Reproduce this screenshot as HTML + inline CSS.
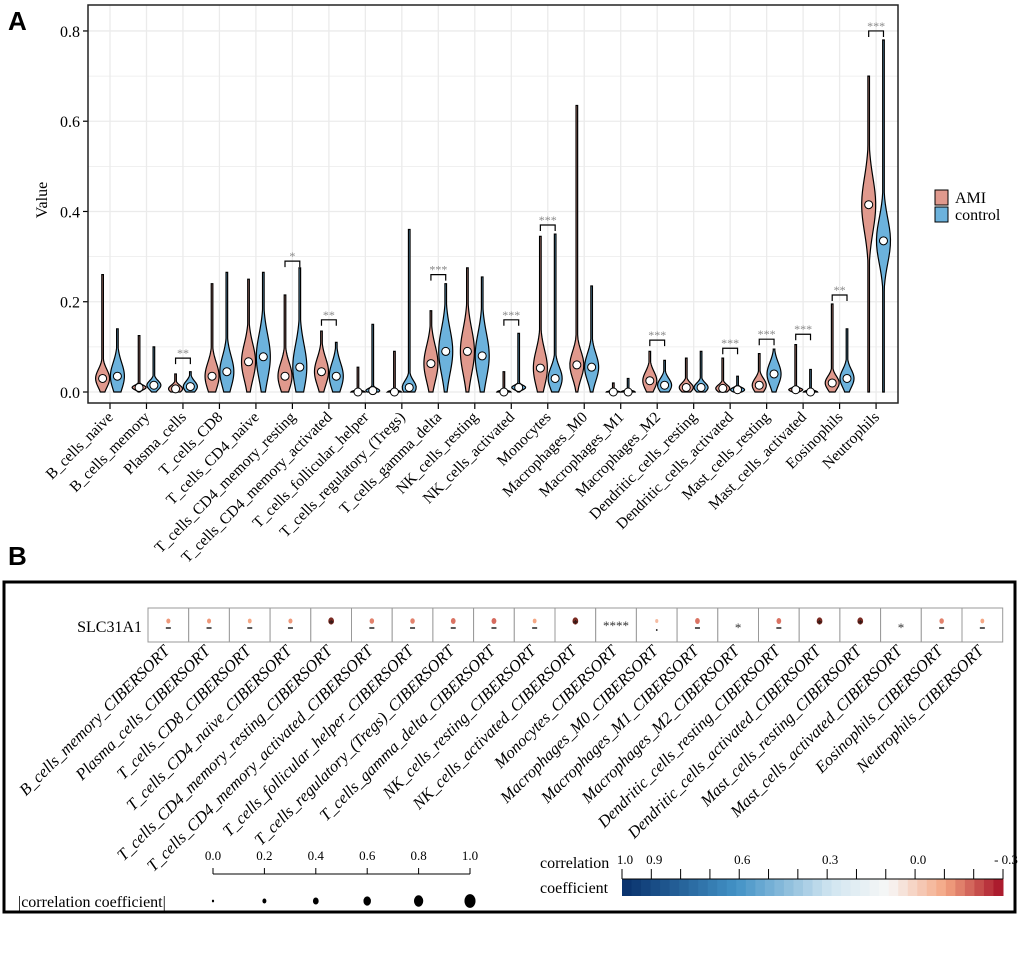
<!DOCTYPE html>
<html><head><meta charset="utf-8"><style>
body{margin:0;background:#fff;}
svg{display:block;font-family:"Liberation Serif",serif;}
</style></head><body>
<svg id="chart" width="1020" height="961" xmlns="http://www.w3.org/2000/svg">
<text x="8" y="30" font-family="Liberation Sans, sans-serif" font-weight="bold" font-size="26">A</text>
<text x="8" y="565" font-family="Liberation Sans, sans-serif" font-weight="bold" font-size="26">B</text>
<g id="pa"></g>
<rect x="4" y="582" width="1011" height="330" fill="none" stroke="#000" stroke-width="3"/>
<g id="pb"></g>
</svg>
<script>
const categories=["B_cells_naive","B_cells_memory","Plasma_cells","T_cells_CD8","T_cells_CD4_naive","T_cells_CD4_memory_resting","T_cells_CD4_memory_activated","T_cells_follicular_helper","T_cells_regulatory_(Tregs)","T_cells_gamma_delta","NK_cells_resting","NK_cells_activated","Monocytes","Macrophages_M0","Macrophages_M1","Macrophages_M2","Dendritic_cells_resting","Dendritic_cells_activated","Mast_cells_resting","Mast_cells_activated","Eosinophils","Neutrophils"];
const amiMed=[0.03,0.01,0.007,0.035,0.067,0.035,0.045,0,0,0.063,0.09,0,0.053,0.06,0,0.025,0.01,0.008,0.015,0.005,0.02,0.415];
const amiMax=[0.26,0.125,0.04,0.24,0.25,0.215,0.135,0.055,0.09,0.18,0.275,0.045,0.345,0.635,0.02,0.09,0.075,0.075,0.085,0.105,0.195,0.70];
const amiSpread=[0.02,0.005,0.008,0.03,0.04,0.03,0.03,0.003,0.003,0.04,0.05,0.003,0.04,0.03,0.002,0.02,0.01,0.008,0.015,0.004,0.015,0.06];
const ctlMed=[0.035,0.015,0.012,0.045,0.078,0.055,0.035,0.003,0.01,0.09,0.08,0.01,0.03,0.055,0,0.015,0.01,0.005,0.04,0,0.03,0.335];
const ctlMax=[0.14,0.10,0.045,0.265,0.265,0.275,0.11,0.15,0.36,0.24,0.255,0.13,0.35,0.235,0.03,0.07,0.09,0.035,0.095,0.05,0.14,0.78];
const ctlSpread=[0.03,0.01,0.012,0.035,0.05,0.05,0.03,0.005,0.015,0.05,0.05,0.005,0.025,0.03,0.003,0.015,0.01,0.005,0.025,0.003,0.02,0.05];
const sigLabels=["","","**","","","*","**","","","***","","***","***","","","***","","***","***","***","**","***"];
const sigHeights=[0,0,0.075,0,0,0.29,0.16,0,0,0.26,0,0.16,0.37,0,0,0.115,0,0.097,0.117,0.128,0.215,0.8];
const yTicks=[0,0.2,0.4,0.6,0.8];

const heatCats=["B_cells_memory","Plasma_cells","T_cells_CD8","T_cells_CD4_naive","T_cells_CD4_memory_resting","T_cells_CD4_memory_activated","T_cells_follicular_helper","T_cells_regulatory_(Tregs)","T_cells_gamma_delta","NK_cells_resting","NK_cells_activated","Monocytes","Macrophages_M0","Macrophages_M1","Macrophages_M2","Dendritic_cells_resting","Dendritic_cells_activated","Mast_cells_resting","Mast_cells_activated","Eosinophils","Neutrophils"];
const corrValues=[-0.12,-0.12,-0.1,-0.12,-0.25,-0.15,-0.15,-0.17,-0.18,-0.1,-0.25,-0.6,-0.05,-0.17,-0.2,-0.17,-0.25,-0.25,-0.2,-0.15,-0.1];
const corrSig=["-","-","-","-","*o","-","-","-","-","-","*o","****",".","-","*","-","*o","*o","*","-","-"];
const sizeTicks=["0.0","0.2","0.4","0.6","0.8","1.0"];
const colorTicks=["1.0","0.9","0.6","0.3","0.0","- 0.3"];
const colorTickVals=[1.0,0.9,0.6,0.3,0.0,-0.3];

const NS="http://www.w3.org/2000/svg";
function mk(tag,attrs,parent,text){const e=document.createElementNS(NS,tag);for(const k in attrs)e.setAttribute(k,attrs[k]);if(text!==undefined)e.textContent=text;parent.appendChild(e);return e;}
const pa=document.getElementById('pa');
const L=88,R=898,T=5,B=403;
const y0=392,yScale=451.3;
const Y=v=>y0-v*yScale;
const X=i=>110+i*36.48;
mk('rect',{x:L,y:T,width:R-L,height:B-T,fill:'#fff'},pa);
for(let k=0;k<=8;k++){const g=mk('line',{x1:L,x2:R,y1:Y(k*0.1),y2:Y(k*0.1),stroke:'#ebebeb','stroke-width':k%2?0.8:1.3},pa);}
categories.forEach((c,i)=>{const g=mk('line',{x1:X(i),x2:X(i),y1:T,y2:B,stroke:'#ebebeb','stroke-width':1.3},pa);});
function violin(cx,med,max,s,col,name){
  const W=7,pts=[];const n=60;
  for(let k=0;k<=n;k++){const v=max*k/n;let w=W*Math.exp(-0.5*Math.pow((v-med)/s,2));w=Math.max(w,0.8);pts.push([v,w]);}
  let d='M'+(cx-pts[0][1])+','+Y(0);
  pts.forEach(p=>d+=' L'+(cx-p[1])+','+Y(p[0]));
  for(let k=pts.length-1;k>=0;k--)d+=' L'+(cx+pts[k][1])+','+Y(pts[k][0]);
  d+='Z';
  const p=mk('path',{d:d,fill:col,stroke:'#000','stroke-width':1.2},pa);
  
  
  const c=mk('circle',{cx:cx,cy:Y(med),r:4,fill:'#fff',stroke:'#000','stroke-width':1},pa);
  
  
}
categories.forEach((c,i)=>{
  violin(X(i)-7.4,amiMed[i],amiMax[i],amiSpread[i],'#e0998d','violin-ami-'+i);
  violin(X(i)+7.4,ctlMed[i],ctlMax[i],ctlSpread[i],'#6cb2dc','violin-control-'+i);
  if(sigLabels[i]){
    const h=Y(sigHeights[i]);
    const br=mk('path',{d:`M${X(i)-7.4},${h+6} V${h} H${X(i)+7.4} V${h+6}`,fill:'none',stroke:'#000','stroke-width':1.2},pa);
    
    
    const t=mk('text',{x:X(i),y:h-1,'text-anchor':'middle','font-size':12,fill:'#888'},pa,sigLabels[i]);
    
    
  }
  mk('line',{x1:X(i),x2:X(i),y1:B,y2:B+6,stroke:'#000','stroke-width':1.2},pa);
  const t=mk('text',{x:0,y:0,'text-anchor':'end','font-size':15.5,transform:`translate(${X(i)+4},${B+15}) rotate(-45)`},pa,c);
  
  
});
yTicks.forEach(v=>{
  mk('line',{x1:L-5,x2:L,y1:Y(v),y2:Y(v),stroke:'#000','stroke-width':1.2},pa);
  const t=mk('text',{x:L-8,y:Y(v)+6,'text-anchor':'end','font-size':16},pa,v.toFixed(1));
  
  
});
mk('rect',{x:L,y:T,width:R-L,height:B-T,fill:'none',stroke:'#222','stroke-width':1.5},pa);
const yt=mk('text',{x:0,y:0,'text-anchor':'middle','font-size':16,transform:'translate(47,200) rotate(-90)'},pa,'Value');


[['AMI','#e0998d',190],['control','#6cb2dc',207]].forEach(([n,c,y])=>{
  const r=mk('rect',{x:935,y:y,width:13,height:15,fill:c,stroke:'#000','stroke-width':1},pa);
  
  
  const t=mk('text',{x:955,y:y+13,'font-size':16},pa,n);
  
  
});

const pb=document.getElementById('pb');
const cx0=148,cw=40.7,cy0=608,ch=34;
const st=mk('text',{x:142,y:632,'text-anchor':'end','font-size':16},pb,'SLC31A1');


function corrColor(r){
  const t=(1-r)/1.3;
  const stops=[[0,[8,48,107]],[0.3,[66,146,198]],[0.55,[209,229,240]],[0.7,[247,247,247]],[0.85,[244,165,130]],[1,[165,15,38]]];
  for(let k=1;k<stops.length;k++){if(t<=stops[k][0]){const a=stops[k-1],b=stops[k];const f=(t-a[0])/(b[0]-a[0]);return 'rgb('+a[1].map((v,j)=>Math.round(v+(b[1][j]-v)*f)).join(',')+')';}}
  return 'rgb(165,15,38)';
}
heatCats.forEach((c,i)=>{
  const x=cx0+i*cw;
  const r=mk('rect',{x:x,y:cy0,width:cw,height:ch,fill:'#fff',stroke:'#999','stroke-width':1},pb);
  
  
  const mx=x+cw/2;
  const sg=corrSig[i];
  if(sg==='****'||sg==='*'){
    const t=mk('text',{x:mx,y:cy0+(sg==='*'?24:22),'text-anchor':'middle','font-size':13,fill:'#333'},pb,sg);
    
    
  } else {
    const rr=Math.min(4,1.6+Math.abs(corrValues[i])*8);
    const d=mk('ellipse',{cx:mx,cy:cy0+13,rx:rr*0.8,ry:rr,fill:sg==='*o'?'#7a2a22':corrColor(corrValues[i])},pb);
    
    
    if(sg==='*o'){const t=mk('text',{x:mx,y:cy0+19,'text-anchor':'middle','font-size':11,fill:'#111'},pb,'*');}
    else if(sg==='.'){mk('circle',{cx:mx,cy:cy0+22,r:0.9,fill:'#000'},pb);}
    else {mk('line',{x1:mx-2.5,x2:mx+2.5,y1:cy0+20,y2:cy0+20,stroke:'#000','stroke-width':1.3},pb);}
  }
  const t=mk('text',{x:0,y:0,'text-anchor':'end','font-size':16.5,'font-style':'italic',transform:`translate(${mx+2},${cy0+ch+10}) rotate(-45)`},pb,c+'_CIBERSORT');
  
  
});
const sl=mk('text',{x:18,y:907,'font-size':16},pb,'|correlation coefficient|');


mk('line',{x1:213,x2:470,y1:874,y2:874,stroke:'#000','stroke-width':1},pb);
sizeTicks.forEach((s,k)=>{
  const x=213+k*51.4;
  mk('line',{x1:x,x2:x,y1:868,y2:874,stroke:'#000','stroke-width':1},pb);
  const t=mk('text',{x:x,y:860,'text-anchor':'middle','font-size':13},pb,s);
  
  
  const v=parseFloat(s);const r=1.3+v*5.2;
  const e=mk('ellipse',{cx:x,cy:901,rx:r*0.85,ry:r*1.05,fill:'#000'},pb);
  
  
});
const c1=mk('text',{x:540,y:868,'font-size':16},pb,'correlation');


mk('text',{x:540,y:893,'font-size':16},pb,'coefficient');
const cbL=622,cbR=1003;
const CX=r=>cbL+(1-r)/1.3*(cbR-cbL);
const nSeg=40;
for(let k=0;k<nSeg;k++){
  const r=1-1.3*(k+0.5)/nSeg;
  const s=mk('rect',{x:cbL+k*(cbR-cbL)/nSeg,y:879,width:(cbR-cbL)/nSeg+0.5,height:17,fill:corrColor(r)},pb);
  
  
}
for(let k=0;k<=13;k++){const x=cbL+k*(cbR-cbL)/13;mk('line',{x1:x,x2:x,y1:869,y2:879,stroke:'#000','stroke-width':1},pb);}
mk('line',{x1:cbL,x2:cbR,y1:879,y2:879,stroke:'#000','stroke-width':1},pb);
colorTicks.forEach((s,k)=>{
  const t=mk('text',{x:CX(colorTickVals[k])+3,y:864,'text-anchor':'middle','font-size':13},pb,s);
  
  
});
</script>
</body></html>
